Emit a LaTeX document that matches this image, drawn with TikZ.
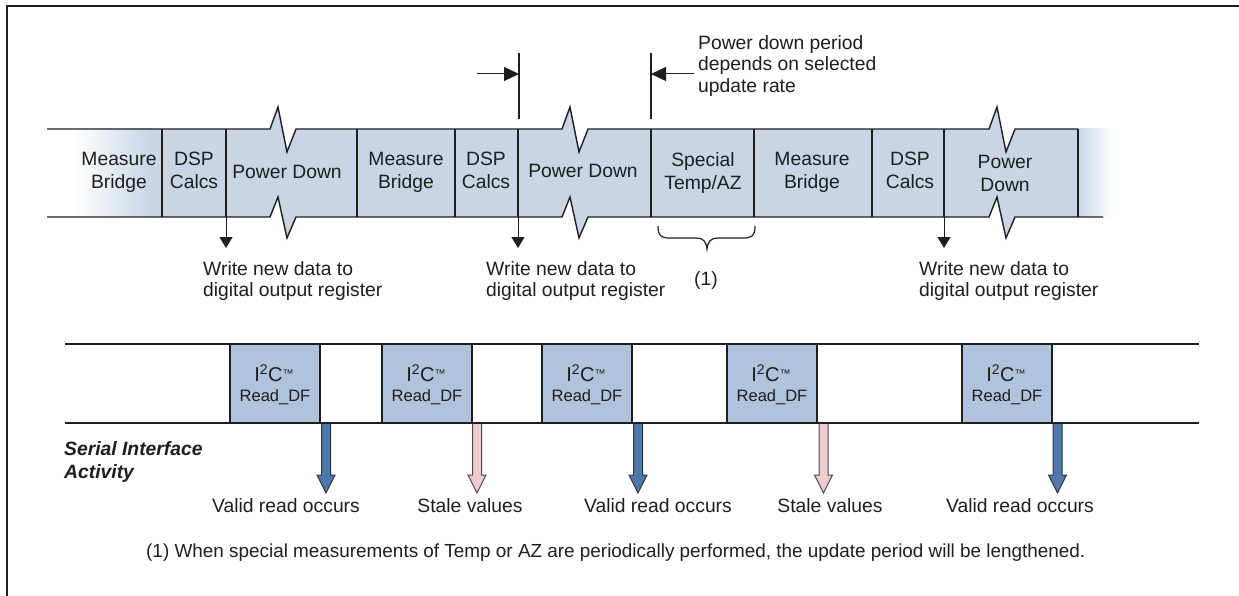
\documentclass[tikz,border=0pt]{standalone}
\usepackage{fontspec}
\setmainfont{Liberation Sans}
\usetikzlibrary{arrows.meta}
\definecolor{bandblue}{RGB}{201,213,229}
\definecolor{boxblue}{RGB}{176,194,220}
\definecolor{validblue}{RGB}{79,121,172}
\definecolor{stalepink}{RGB}{238,204,204}
\definecolor{ink}{RGB}{30,30,30}
\begin{document}
\begin{tikzpicture}[x=1pt,y=-1pt,line join=miter,
  lbl/.style={font=\fontsize{19.3}{23}\selectfont, align=center, inner sep=0pt, text=ink},
  note/.style={font=\fontsize{19.3}{21.5}\selectfont, align=left, inner sep=0pt, text=ink, anchor=north west},
  edgeline/.style={line width=1.4pt, draw=ink},
  divider/.style={line width=1.3pt, draw=ink},
  i2cbox/.style={draw=ink, line width=1.3pt, fill=boxblue, minimum width=90pt, minimum height=79pt, inner sep=0pt},
  i2ctop/.style={font=\fontsize{20}{20}\selectfont, inner sep=0pt, anchor=base, text=ink},
  i2cbot/.style={font=\fontsize{16.5}{16.5}\selectfont, inner sep=0pt, anchor=base, text=ink},
  readlbl/.style={font=\fontsize{19.3}{23}\selectfont, inner sep=0pt, anchor=base, text=ink},
  downtip/.style={line width=1pt, draw=ink, -{Triangle[length=11pt,width=13pt]}},
  marktip/.style={line width=1pt, draw=ink, -{Triangle[length=15pt,width=14pt]}},
  validarr/.style={fill=validblue, draw=ink!90, line width=1pt},
  stalearr/.style={fill=stalepink, draw=ink!80, line width=1pt}
]
\useasboundingbox (0,0) rectangle (1239,596);
% frame
\draw[line width=2pt, draw=ink] (7,597) -- (7,6) -- (1240,6);

% ---------- top band ----------
\shade[left color=white, right color=bandblue] (75,129) rectangle (152,217);
\fill[bandblue] (151,129) -- (270,129) -- (278,107) -- (287,152) -- (296,129)
  -- (562,129) -- (570,107) -- (579,152) -- (588,129)
  -- (989,129) -- (997,107) -- (1006,152) -- (1015,129) -- (1078,129)
  -- (1078,217) -- (1015,217) -- (1006,238) -- (997,197) -- (989,217)
  -- (588,217) -- (579,238) -- (570,197) -- (562,217)
  -- (296,217) -- (287,238) -- (278,197) -- (270,217) -- (151,217) -- cycle;
\shade[left color=bandblue, right color=white] (1078,129) rectangle (1112,217);
\draw[edgeline] (47,129) -- (270,129) -- (278,107) -- (287,152) -- (296,129)
  -- (562,129) -- (570,107) -- (579,152) -- (588,129)
  -- (989,129) -- (997,107) -- (1006,152) -- (1015,129) -- (1078,129);
\draw[edgeline] (47,217) -- (270,217) -- (278,197) -- (287,238) -- (296,217)
  -- (562,217) -- (570,197) -- (579,238) -- (588,217)
  -- (989,217) -- (997,197) -- (1006,238) -- (1015,217) -- (1103,217);
\foreach \x in {162,226,357,455,518,651,754,872,944,1078}
  \draw[divider] (\x,129) -- (\x,217);

% band labels
\node[lbl] (mb1) at (119,172.6) {Measure\\Bridge};
\node[lbl] (dsp1) at (194,170.6) {DSP\\Calcs};
\node[lbl] (pd1) at (287,172.1) {Power Down};
\node[lbl] (mb2) at (406,172.6) {Measure\\Bridge};
\node[lbl] (dsp2) at (486,170.6) {DSP\\Calcs};
\node[lbl] (pd2) at (583,171.1) {Power Down};
\node[lbl] (sp) at (703,172.6) {Special\\Temp/AZ};
\node[lbl] (mb3) at (812,172.6) {Measure\\Bridge};
\node[lbl] (dsp3) at (910,170.6) {DSP\\Calcs};
\node[lbl] (pd3) at (1005,173.6) {Power\\Down};

% write arrows
\coordinate (w1s) at (226,217); \coordinate (w1e) at (226,248);
\coordinate (w2s) at (518,217); \coordinate (w2e) at (518,248);
\coordinate (w3s) at (944,217); \coordinate (w3e) at (944,248);
\draw[downtip] (w1s) -- (w1e);
\draw[downtip] (w2s) -- (w2e);
\draw[downtip] (w3s) -- (w3e);
\node[note] (wr1) at (203,261) {Write new data to\\digital output register};
\node[note] (wr2) at (486,261) {Write new data to\\digital output register};
\node[note] (wr3) at (919,261) {Write new data to\\digital output register};

% period markers
\coordinate (m1t) at (519,53); \coordinate (m1b) at (519,119);
\coordinate (m2t) at (651,53); \coordinate (m2b) at (651,119);
\coordinate (a1s) at (477,74); \coordinate (a1e) at (519,74);
\coordinate (a2s) at (694,74); \coordinate (a2e) at (651,74);
\draw[line width=1.2pt, draw=ink] (m1t) -- (m1b);
\draw[line width=1.2pt, draw=ink] (m2t) -- (m2b);
\draw[marktip] (a1s) -- (a1e);
\draw[marktip] (a2s) -- (a2e);
\node[note] (pdp) at (698,35) {Power down period\\depends on selected\\update rate};

% brace
\draw[line width=1.2pt, draw=ink] (658,226) .. controls (658,236) and (661,238) .. (670,238)
  -- (696,238) .. controls (703,238) and (706,241) .. (707,249)
  .. controls (708,241) and (711,238) .. (718,238)
  -- (743,238) .. controls (752,238) and (755,236) .. (755,226);
\node[lbl] (one) at (706,281) {(1)};

% ---------- serial interface ----------
\draw[edgeline] (65,344) -- (1199,344);
\draw[edgeline] (65,423) -- (1199,423);
\foreach \n/\cx in {1/275,2/427,3/587,4/772,5/1007}{
  \node[i2cbox] (r\n) at (\cx,383.5) {};
  \node[i2ctop] (r\n t) at (\cx-1,381.7) {I\textsuperscript{2}C\raisebox{4.5pt}{\fontsize{11}{11}\selectfont ™}};
  \node[i2cbot] (r\n b) at (\cx,401.7) {Read\_DF};
}
\node[note, font=\fontsize{19.3}{23}\selectfont\bfseries\itshape] (sia) at (64,441) {Serial Interface\\Activity};

% read arrows
\foreach \x/\st in {326/validarr,477/stalearr,638/validarr,823.5/stalearr,1057.5/validarr}{
  \draw[\st] (\x-4.5,424) -- (\x-4.5,475) -- (\x-9,475) -- (\x,493) -- (\x+9,475) -- (\x+4.5,475) -- (\x+4.5,424);
}
\node[readlbl] (v1) at (286,512) {Valid read occurs};
\node[readlbl] (s1) at (470,512) {Stale values};
\node[readlbl] (v2) at (658,512) {Valid read occurs};
\node[readlbl] (s2) at (830,512) {Stale values};
\node[readlbl] (v3) at (1020,512) {Valid read occurs};

% footnote
\node[font=\fontsize{18.9}{21}\selectfont, inner sep=0pt, anchor=base west, text=ink] (fn) at (146,557)
  {(1) When special measurements of Temp or AZ are periodically performed, the update period will be lengthened.};
\end{tikzpicture}
\end{document}
